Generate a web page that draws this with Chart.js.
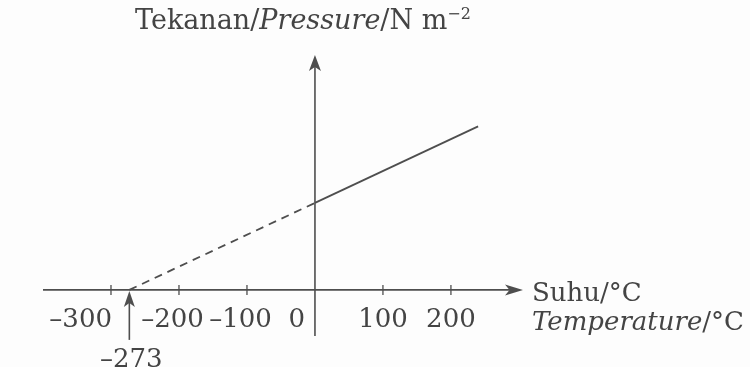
<!DOCTYPE html>
<html>
<head>
<meta charset="utf-8">
<script src="https://cdn.jsdelivr.net/npm/chart.js@4.4.1/dist/chart.umd.min.js"></script>
<style>
  html, body { margin: 0; padding: 0; background: #fdfdfd; }
  #wrap { width: 750px; height: 367px; }
</style>
</head>
<body>
<div id="wrap"><canvas id="myChart" width="750" height="367"></canvas></div>
<script>
// extrapolated part (dashed) and measured part (solid)
var dashedTemp = [-273, 0];
var dashedPressure = [0, 100];
var solidTemp = [0, 240];
var solidPressure = [100, 188];

var tickValues = [-300, -200, -100, 0, 100, 200];
var tickLabels = ['\u2013300', '\u2013200', '\u2013100', '0', '100', '200'];
var zeroTemp = -273;

var ink = '#4e4e4e';
var textInk = '#444444';
var serif = '"DejaVu Serif", "Liberation Serif", serif';

function toPoints(xs, ys) {
  return xs.map(function (x, i) { return { x: x, y: ys[i] }; });
}

function arrowHead(ctx, x, y, dir, len, half) {
  // dir: 'up' or 'right', tip at (x, y)
  ctx.beginPath();
  if (dir === 'up') {
    ctx.moveTo(x, y);
    ctx.lineTo(x + half, y + len);
    ctx.lineTo(x, y + len * 0.75);
    ctx.lineTo(x - half, y + len);
  } else {
    ctx.moveTo(x, y);
    ctx.lineTo(x - len, y - half);
    ctx.lineTo(x - len * 0.75, y);
    ctx.lineTo(x - len, y + half);
  }
  ctx.closePath();
  ctx.fill();
}

var axesPlugin = {
  id: 'axesPlugin',
  beforeDatasetsDraw: function (chart) {
    var ctx = chart.ctx;
    var xs = chart.scales.x, ys = chart.scales.y;
    var area = chart.chartArea;
    var ox = xs.getPixelForValue(0), oy = ys.getPixelForValue(0);

    ctx.save();
    ctx.strokeStyle = ink;
    ctx.fillStyle = ink;
    ctx.lineWidth = 1.6;

    // x axis
    ctx.beginPath();
    ctx.moveTo(area.left, oy);
    ctx.lineTo(area.right - 8, oy);
    ctx.stroke();
    arrowHead(ctx, area.right, oy, 'right', 18, 5.5);

    // y axis
    ctx.beginPath();
    ctx.moveTo(ox, area.bottom);
    ctx.lineTo(ox, area.top + 8);
    ctx.stroke();
    arrowHead(ctx, ox, area.top, 'up', 16, 6);

    // ticks
    ctx.lineWidth = 1.3;
    tickValues.forEach(function (v) {
      if (v === 0) return;
      var px = xs.getPixelForValue(v);
      ctx.beginPath();
      ctx.moveTo(px, oy - 5);
      ctx.lineTo(px, oy + 5);
      ctx.stroke();
    });

    // arrow pointing at absolute zero
    var zx = xs.getPixelForValue(zeroTemp);
    ctx.lineWidth = 1.6;
    ctx.beginPath();
    ctx.moveTo(zx, oy + 50);
    ctx.lineTo(zx, oy + 10);
    ctx.stroke();
    arrowHead(ctx, zx, oy + 1, 'up', 16, 5.5);

    // tick labels
    ctx.fillStyle = textInk;
    ctx.font = '26px ' + serif;
    ctx.textBaseline = 'alphabetic';
    var ly = oy + 37;
    tickLabels.forEach(function (lab, i) {
      var v = tickValues[i];
      var px = xs.getPixelForValue(v);
      var w = ctx.measureText(lab).width;
      var x0;
      if (v === -300) {
        x0 = px + 1 - w;
      } else if (v < 0) {
        var dw = ctx.measureText(lab.slice(1)).width;
        x0 = px - dw / 2 - (w - dw);
      } else if (v === 0) {
        x0 = ox - 10 - w;
      } else {
        x0 = px - w / 2;
      }
      ctx.textAlign = 'left';
      ctx.fillText(lab, x0, ly);
    });

    ctx.textAlign = 'center';
    ctx.fillText('\u2013273', zx + 2, oy + 77);

    // axis titles
    ctx.textAlign = 'left';
    ctx.fillText('Suhu/\u00B0C', area.right + 9, oy + 11);
    ctx.font = 'italic 26px ' + serif;
    var tw = ctx.measureText('Temperature').width;
    ctx.fillText('Temperature', area.right + 9, oy + 40);
    ctx.font = '26px ' + serif;
    ctx.fillText('/\u00B0C', area.right + 9 + tw, oy + 40);

    // y title, pieces
    var parts = [
      { t: 'Tekanan/', f: '27px ' + serif, dy: 0 },
      { t: 'Pressure', f: 'italic 27px ' + serif, dy: 0 },
      { t: '/N m', f: '27px ' + serif, dy: 0 },
      { t: '\u22122', f: '16px ' + serif, dy: -10 }
    ];
    var tx = 135;
    parts.forEach(function (p) {
      ctx.font = p.f;
      ctx.fillText(p.t, tx, 29 + p.dy);
      tx += ctx.measureText(p.t).width;
    });

    ctx.restore();
  }
};

var ctx = document.getElementById('myChart').getContext('2d');
var myChart = new Chart(ctx, {
  type: 'scatter',
  data: {
    datasets: [{
      data: toPoints(dashedTemp, dashedPressure),
      showLine: true,
      borderColor: ink,
      borderWidth: 1.8,
      borderDash: [8, 6],
      pointRadius: 0
    }, {
      data: toPoints(solidTemp, solidPressure),
      showLine: true,
      borderColor: ink,
      borderWidth: 1.8,
      pointRadius: 0
    }]
  },
  options: {
    responsive: false,
    animation: false,
    layout: { padding: { left: 43, right: 227, top: 55, bottom: 31 } },
    scales: {
      x: { type: 'linear', min: -400, max: 306, display: false },
      y: { type: 'linear', min: -53, max: 270, display: false }
    },
    plugins: {
      legend: { display: false },
      tooltip: { enabled: false }
    }
  },
  plugins: [axesPlugin]
});
</script>
</body>
</html>
